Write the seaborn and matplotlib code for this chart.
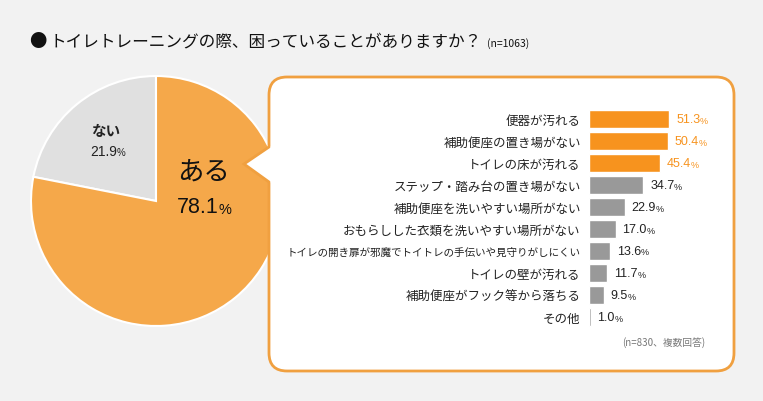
import matplotlib
matplotlib.use('Agg')
import matplotlib.pyplot as plt
import seaborn as sns
import pandas as pd
from matplotlib.patches import FancyBboxPatch, Polygon

# data
pie_labels = ['ない', 'ある']
pie_values = [21.9, 78.1]

items = ['便器が汚れる', '補助便座の置き場がない', 'トイレの床が汚れる',
         'ステップ・踏み台の置き場がない', '補助便座を洗いやすい場所がない',
         'おもらしした衣類を洗いやすい場所がない',
         'トイレの開き扉が邪魔でトイトレの手伝いや見守りがしにくい',
         'トイレの壁が汚れる', '補助便座がフック等から落ちる', 'その他']
rates = [51.3, 50.4, 45.4, 34.7, 22.9, 17.0, 13.6, 11.7, 9.5, 1.0]
groups = ['top'] * 3 + ['other'] * 7

sns.set_theme(style='white')
plt.rcParams['font.family'] = ['Noto Sans CJK JP', 'DejaVu Sans']

W, H = 763, 402
BG = '#f2f2f2'
ORANGE = '#f7931e'
PIE_ORANGE = '#f5a84a'
GREY = '#999999'
NUMFONT = ['Liberation Sans', 'DejaVu Sans']

fig = plt.figure(figsize=(W / 100, H / 100), dpi=100, facecolor=BG)
renderer = fig.canvas.get_renderer()


def px_axes(left, top, w, h, z):
    return fig.add_axes([left / W, 1 - (top + h) / H, w / W, h / H], zorder=z)


def pct_text(ax, x, y, value, size, color, pct_size=None):
    # number, then a smaller % sign right after it
    t = ax.text(x, y, f'{value:.1f}', fontsize=size, color=color, va='center',
                ha='left', family=NUMFONT)
    w = t.get_window_extent(renderer).width * 72 / fig.dpi
    ax.annotate('%', xy=(x, y), xytext=(w - 0.4, -size * 0.08), textcoords='offset points',
                fontsize=pct_size or size * 0.7, color=color, va='center', ha='left',
                family=NUMFONT)


# pie (sits behind the box)
cx, cy, r = 156, 202, 125
ax_pie = px_axes(cx - r, cy - r, 2 * r, 2 * r, 1)
ax_pie.pie(pie_values, colors=['#e0e0e0', PIE_ORANGE], startangle=90,
           wedgeprops=dict(edgecolor='white', linewidth=1.5))
ax_pie.set_xlim(-1, 1)
ax_pie.set_ylim(-1, 1)
ax_pie.axis('off')

# overlay in pixel coords
ov = px_axes(0, 0, W, H, 2)
ov.set_xlim(0, W)
ov.set_ylim(H, 0)
ov.axis('off')
ov.patch.set_alpha(0)

ov.text(29, 42, '●', fontsize=12.5, va='center', ha='left', color='#111111')
ov.text(50, 42, 'トイレトレーニングの際、困っていることがありますか？', fontsize=12,
        va='center', ha='left', color='#111111')
ov.text(487, 44, '(n=1063)', fontsize=7.5, va='center', ha='left', color='#111111')

ov.text(91, 131, pie_labels[0], fontsize=10.5, fontweight='bold', va='center', ha='left', color='#222222')
pct_text(ov, 90, 152, pie_values[0], 10, '#222222')
ov.text(177, 172, pie_labels[1], fontsize=19, va='center', ha='left', color='#111111')
pct_text(ov, 177, 208, pie_values[1], 15.5, '#111111', pct_size=10.5)

box = FancyBboxPatch((269, 78), 465, 294, boxstyle='round,pad=0,rounding_size=18',
                     facecolor='white', edgecolor='#f0a040', linewidth=2)
ov.add_patch(box)
ov.add_patch(Polygon([(244, 165), (271, 147), (271, 184)], closed=True,
                     facecolor='white', edgecolor='none', zorder=3))
ov.plot([269, 244, 269], [148, 165, 183], color='#f0a040', linewidth=2, zorder=4,
        solid_joinstyle='miter')

ov.text(705, 343, '(n=830、複数回答)', fontsize=7, va='center', ha='right', color='#777777')

# bars
df = pd.DataFrame({'item': items, 'rate': rates, 'group': groups})
scale = 1.56  # px per %
ax_bar = px_axes(589, 109, 140, 220, 3)
sns.barplot(data=df, x='rate', y='item', hue='group', palette={'top': ORANGE, 'other': GREY},
            width=0.86, legend=False, ax=ax_bar, saturation=1)
ax_bar.set_xlim(0, 140 / scale)
ax_bar.set_ylim(len(items) - 0.5, -0.5)
ax_bar.patch.set_alpha(0)
for s in ax_bar.spines.values():
    s.set_visible(False)
ax_bar.set_xlabel('')
ax_bar.set_ylabel('')
ax_bar.set_xticks([])
ax_bar.tick_params(axis='y', length=0, pad=6, labelsize=9, labelcolor='#222222')
for lab in ax_bar.get_yticklabels():
    if len(lab.get_text()) > 20:
        lab.set_fontsize(7.6)
for i, (v, g) in enumerate(zip(rates, groups)):
    pct_text(ax_bar, v + 7 / scale, i, v, 9, ORANGE if g == 'top' else '#222222', pct_size=6.5)

fig.savefig('out.png', dpi=100, facecolor=BG)
